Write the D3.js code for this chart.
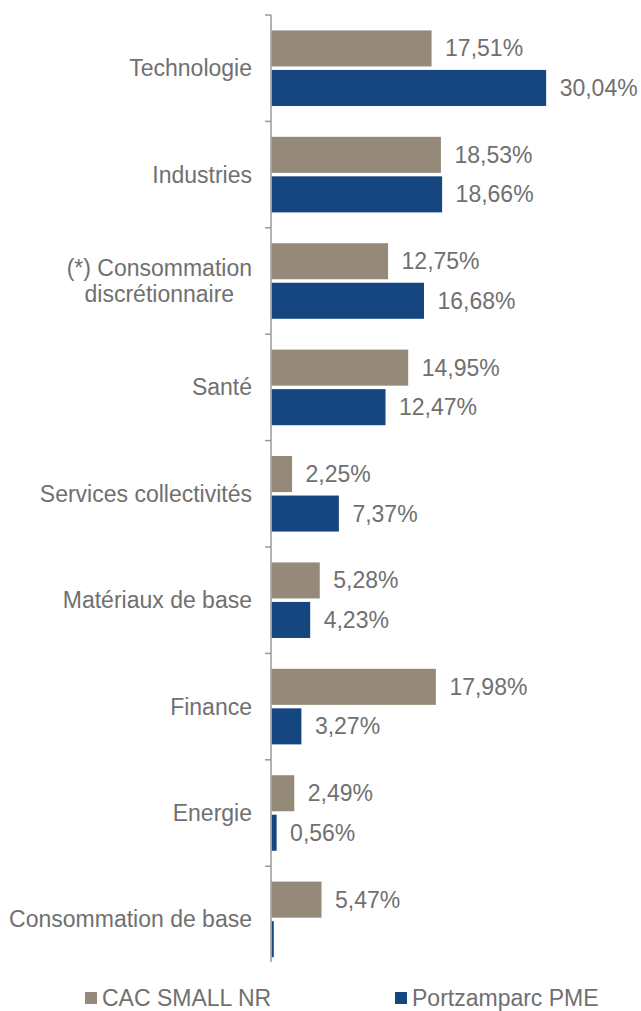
<!DOCTYPE html>
<html>
<head>
<meta charset="utf-8">
<script src="https://cdn.jsdelivr.net/npm/d3@7"></script>
<style>
  body { margin: 0; background: #fff; }
  text { font-family: Arial, "Liberation Sans", Helvetica, sans-serif; fill: #707070; }
</style>
</head>
<body>
<div id="bar"></div>
<script>
"use strict";

// data
var categories = ["Technologie", "Industries", "(*) Consommation discrétionnaire", "Santé",
    "Services collectivités", "Matériaux de base", "Finance", "Energie", "Consommation de base"];
var cacSmall = [17.51, 18.53, 12.75, 14.95, 2.25, 5.28, 17.98, 2.49, 5.47];
var portzamparc = [30.04, 18.66, 16.68, 12.47, 7.37, 4.23, 3.27, 0.56, 0.25];
var showPortLabel = [true, true, true, true, true, true, true, true, false];
var seriesNames = ["CAC SMALL NR", "Portzamparc PME"];
var colors = ["#958a7a", "#15467f"];

var width = 641, height = 1011;
var fontSize = 23;

var svg = d3.select("#bar")
    .append("svg")
    .attr("width", width)
    .attr("height", height);

var rows = categories.map((c, i) => ({cat: c, vals: [cacSmall[i], portzamparc[i]], show: [true, showPortLabel[i]]}));

// Y band scale for categories
var y = d3.scaleBand()
    .domain(categories)
    .range([15, 15 + 9 * 106.4])
    .padding(0);

var yInner = d3.scaleBand()
    .domain([0, 1])
    .range([0, y.bandwidth()])
    .paddingInner(0.088)
    .paddingOuter(0.39);

// X axis scale
var x = d3.scaleLinear()
    .domain([0, 35])
    .range([271, 271 + 320]);

var fmt = v => v.toFixed(2).replace(".", ",") + "%";

// bars
var groups = svg.selectAll("g.cat")
    .data(rows)
    .enter()
    .append("g")
    .attr("class", "cat")
    .attr("transform", d => "translate(0," + y(d.cat) + ")");

groups.selectAll("rect")
    .data(d => d.vals.map((v, k) => ({v: v, k: k, show: d.show[k]})))
    .enter()
    .append("rect")
    .attr("x", x(0) + 0.5)
    .attr("y", d => yInner(d.k))
    .attr("width", d => x(d.v) - x(0))
    .attr("height", yInner.bandwidth())
    .attr("fill", d => colors[d.k]);

groups.selectAll("text.val")
    .data(d => d.vals.map((v, k) => ({v: v, k: k, show: d.show[k]})).filter(d => d.show))
    .enter()
    .append("text")
    .attr("class", "val")
    .attr("x", d => x(d.v) + 14)
    .attr("y", d => yInner(d.k) + yInner.bandwidth() / 2)
    .attr("dy", "0.35em")
    .style("font-size", fontSize + "px")
    .text(d => fmt(d.v));

// axis line and ticks
var axisColor = "#9a9a9a";
svg.append("line")
    .attr("x1", x(0)).attr("x2", x(0))
    .attr("y1", y.range()[0]).attr("y2", 962)
    .attr("stroke", axisColor)
    .attr("stroke-width", 1.5);

svg.selectAll("line.tick")
    .data(categories)
    .enter()
    .append("line")
    .attr("class", "tick")
    .attr("x1", x(0) - 6).attr("x2", x(0))
    .attr("y1", d => y(d)).attr("y2", d => y(d))
    .attr("stroke", axisColor)
    .attr("stroke-width", 1.5);

// category labels, wrapped when too long
var labelRight = 252, maxW = 262;
categories.forEach(function (c) {
    var cy = y(c) + y.bandwidth() / 2;
    var t = svg.append("text")
        .style("font-size", fontSize + "px")
        .attr("text-anchor", "end")
        .attr("x", labelRight)
        .attr("y", cy)
        .attr("dy", "0.35em")
        .text(c);
    if (t.node().getComputedTextLength() > maxW) {
        var words = c.split(" "), lines = [], line = [];
        t.text("");
        words.forEach(function (w) {
            line.push(w);
            t.text(line.join(" "));
            if (t.node().getComputedTextLength() > maxW && line.length > 1) {
                line.pop();
                lines.push(line.join(" "));
                line = [w];
            }
        });
        lines.push(line.join(" "));
        t.remove();
        var lh = 26;
        var g = svg.append("g");
        var spans = lines.map((l, i) => g.append("text")
            .style("font-size", fontSize + "px")
            .attr("text-anchor", "middle")
            .attr("y", cy + (i - (lines.length - 1) / 2) * lh)
            .attr("dy", "0.35em")
            .text(l));
        var wmax = d3.max(spans, s => s.node().getComputedTextLength());
        spans.forEach(s => s.attr("x", labelRight - wmax / 2));
    }
});

// legend
var legendX = [85, 395];
var legend = svg.selectAll("g.legend")
    .data(seriesNames)
    .enter()
    .append("g")
    .attr("class", "legend")
    .attr("transform", (d, i) => "translate(" + legendX[i] + ",998)");
legend.append("rect")
    .attr("x", 0).attr("y", -6)
    .attr("width", 12).attr("height", 12)
    .attr("fill", (d, i) => colors[i]);
legend.append("text")
    .attr("x", 17)
    .attr("dy", "0.35em")
    .style("font-size", fontSize + "px")
    .text(d => d);
</script>
</body>
</html>
